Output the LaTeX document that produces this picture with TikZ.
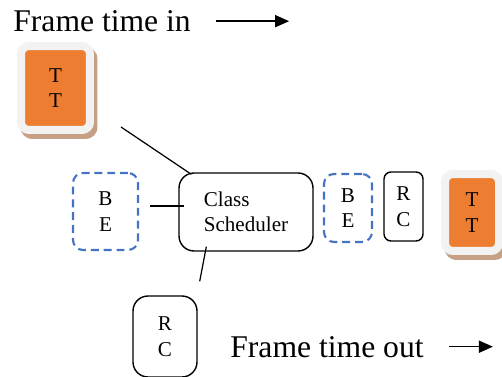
\documentclass[tikz,border=0pt]{standalone}
\usepackage{fontspec}
\setmainfont{Liberation Serif}
\usepackage{tikz}
\usetikzlibrary{arrows.meta,calc}

\definecolor{ttorange}{HTML}{ED7D31}
\definecolor{ttframe}{HTML}{F2F2F2}
\definecolor{ttshadow}{RGB}{198,160,132}
\definecolor{beblue}{HTML}{4472C4}

\begin{document}
\begin{tikzpicture}[x=0.02cm, y=-0.02cm,
        every node/.style={font=\fontsize{12}{14.5}\selectfont, align=center},
        framelabel/.style={font=\fontsize{18}{21}\selectfont, anchor=base west, inner sep=0.1cm},
        ttbox/.style={rounded corners=0.16cm, fill=ttorange, draw=ttframe, line width=0.16cm,
            preaction={draw=ttshadow, fill=ttshadow, line width=0.16cm,
                transform canvas={xshift=0.07cm, yshift=-0.1cm}}},
        bebox/.style={draw=beblue, line width=1.2pt, dash pattern=on 4.5pt off 2.8pt, rounded corners=0.2cm},
        rcbox/.style={draw, line width=0.8pt, rounded corners=0.14cm},
        schedbox/.style={draw, line width=0.8pt, rounded corners=0.3cm, align=left},
        flow/.style={-{Triangle[length=0.28cm, width=0.24cm]}, line width=0.9pt}]
        \useasboundingbox (0,0) rectangle (502,377);
        % frame time labels
        \node[framelabel] (fin) at (8,31.5) {Frame time in};
        \node[framelabel] (fout) at (225,357) {Frame time out};
        \draw[flow] ([xshift=0.4cm]fin.east) -- ++(73,0);
        \draw[flow] ([xshift=0.4cm]fout.east) -- ++(44,0);
        % queues
        \node[ttbox, minimum width=1.38cm, minimum height=1.68cm] (tt1) at (55.5,88) {T\\T};
        \node[bebox, minimum width=1.3cm, minimum height=1.54cm] (be1) at (105.5,211.5) {B\\E};
        \node[schedbox, minimum width=2.68cm, minimum height=1.56cm] (cs) at (246,212) {Class\\Scheduler};
        \node[rcbox, rounded corners=0.3cm, minimum width=1.28cm, minimum height=1.62cm] (rc2) at (165,336.5) {R\\C};
        \node[bebox, minimum width=0.96cm, minimum height=1.36cm] (be2) at (348,208) {B\\E};
        \node[rcbox, minimum width=0.78cm, minimum height=1.38cm] (rc1) at (403.5,206.5) {R\\C};
        \node[ttbox, minimum width=1.08cm, minimum height=1.54cm] (tt2) at (472,212.5) {T\\T};
        % links into the scheduler
        \draw[line width=0.7pt] ($(tt1.south east)+(27,-7)$) -- ($(cs.north west)+(13,2)$);
        \draw[line width=0.7pt] ($(be1.east)+(11,-5.5)$) -- ($(cs.west)+(6,-6)$);
        \draw[line width=0.7pt] ($(cs.south west)+(28,-5)$) -- ($(rc2.north east)+(2,-14)$);
\end{tikzpicture}
\end{document}
